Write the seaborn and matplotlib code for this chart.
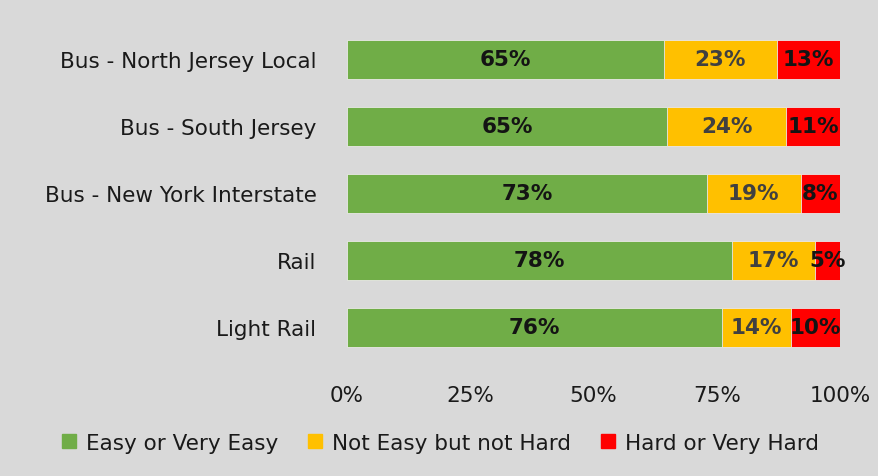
import numpy as np
import pandas as pd
import matplotlib
matplotlib.use("Agg")
import matplotlib.pyplot as plt
from matplotlib.lines import Line2D
import seaborn as sns

categories = ["Bus - North Jersey Local", "Bus - South Jersey",
              "Bus - New York Interstate", "Rail", "Light Rail"]
easy = [65, 65, 73, 78, 76]
neutral = [23, 24, 19, 17, 14]
hard = [13, 11, 8, 5, 10]
series_names = ["Easy or Very Easy", "Not Easy but not Hard", "Hard or Very Hard"]
xtick_labels = ["0%", "25%", "50%", "75%", "100%"]

colors = ["#70ad47", "#ffc000", "#ff0000"]
label_colors = ["#141414", "#404040", "#141414"]
bg = "#d9d9d9"
fs = 15.5

sns.set_theme(style="white")
plt.rcParams["font.family"] = ["DejaVu Sans"]

df = pd.DataFrame({"category": categories, "easy": easy,
                   "neutral": neutral, "hard": hard})
total = df[["easy", "neutral", "hard"]].sum(axis=1)
shares = df[["easy", "neutral", "hard"]].div(total, axis=0) * 100
cum = shares.cumsum(axis=1)

fig = plt.figure(figsize=(8.79, 4.77), dpi=100, facecolor=bg)
ax = fig.add_axes([347 / 879, 1 - 362 / 477, 493 / 879, 335 / 477])
ax.set_facecolor(bg)

# stacked bars: draw the cumulative totals from the widest down
for col, color in zip(["hard", "neutral", "easy"], colors[::-1]):
    sns.barplot(x=cum[col], y=df["category"], color=color, width=0.57,
                orient="h", ax=ax, saturation=1, edgecolor="#e8e8e8",
                linewidth=0.6)

# segment labels
for i in range(len(categories)):
    left = 0
    for j, col in enumerate(["easy", "neutral", "hard"]):
        w = shares.loc[i, col]
        ax.text(left + w / 2, i, f"{df.loc[i, col]}%", ha="center", va="center",
                fontsize=fs, fontweight="bold", color=label_colors[j])
        left += w

ax.set_xlim(0, 100)
ax.set_ylim(4.5, -0.5)
ax.set_xticks([0, 25, 50, 75, 100])
ax.set_xticklabels(xtick_labels)
ax.set_xlabel("")
ax.set_ylabel("")
ax.tick_params(axis="x", length=0, pad=17, labelsize=fs, colors="#1a1a1a")
ax.tick_params(axis="y", length=0, pad=22, labelsize=fs, colors="#1a1a1a")
for s in ax.spines.values():
    s.set_visible(False)

handles = [Line2D([], [], marker="s", linestyle="none", markersize=10,
                  markerfacecolor=c, markeredgecolor=c) for c in colors]
fig.legend(handles, series_names, loc="center", bbox_to_anchor=(0.5, 1 - 444 / 477),
           ncol=3, frameon=False, fontsize=fs, handletextpad=0.4,
           columnspacing=1.3, handlelength=0.8, labelcolor="#1a1a1a")

fig.savefig("out.png", dpi=100, facecolor=bg)
